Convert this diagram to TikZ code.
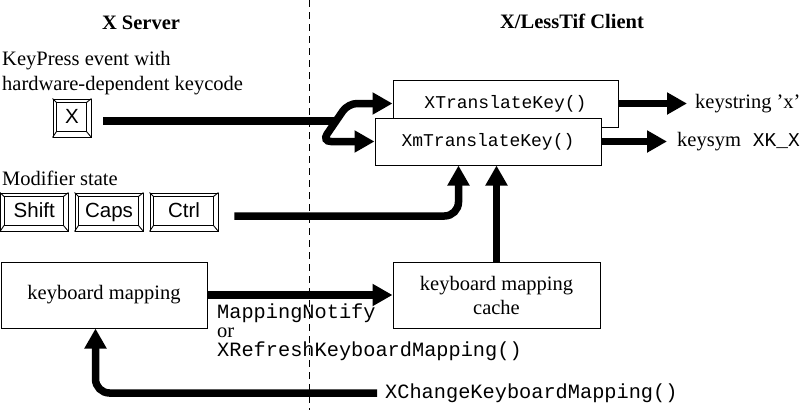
\documentclass[tikz,border=0pt]{standalone}
\usepackage{fontspec}
\setmainfont{Liberation Serif}
\setmonofont{Liberation Mono}
\setsansfont{Liberation Sans}
\usetikzlibrary{arrows.meta,calc}
\newcommand\drawkeycap[1]{%
  \draw[line width=0.9pt] ($(#1.north west)+(4,4)$) coordinate (#1-a)
        rectangle ($(#1.south east)+(-5,-6)$) coordinate (#1-b);
  \draw[line width=0.9pt] (#1.north west) -- (#1-a)
        (#1.north east) -- (#1-b |- #1-a)
        (#1.south west) -- (#1-a |- #1-b)
        (#1.south east) -- (#1-b);
}
\begin{document}
\begin{tikzpicture}[x=1pt,y=-1pt,
  txt/.style={inner sep=0pt, font=\fontsize{20.5}{24}\selectfont},
  hd/.style={inner sep=0pt, font=\fontsize{20.5}{24}\selectfont\bfseries},
  fn/.style={font=\fontsize{18}{22}\selectfont\ttfamily},
  mono/.style={inner sep=0pt, font=\fontsize{20.3}{24}\selectfont\ttfamily},
  keyout/.style={draw, line width=0.9pt, inner sep=0pt, text height=15pt, text depth=4pt, font=\fontsize{20.5}{24}\selectfont\sffamily},
  box/.style={draw, line width=1pt, fill=white, inner sep=0pt},
  bigline/.style={line width=7.5pt},
  bigarrow/.style={line width=7.5pt, -{Triangle[length=20pt,width=21pt]}},
]
\useasboundingbox (0,0) rectangle (800,410);
\fill[white] (0,0) rectangle (800,410);

% divider
\coordinate (dtop) at (309,0);
\coordinate (dbot) at (309,410);
\draw[line width=1pt, dash pattern=on 7pt off 5pt] (dtop) -- (dbot);

% headings
\node[hd, anchor=base] (hserver) at (141,29) {X Server};
\node[hd, anchor=base] (hclient) at (572,28) {X/LessTif Client};

% left texts
\node[txt, anchor=base west] (kp1) at (2,65) {KeyPress event with};
\node[txt, anchor=base west] (kp2) at (2,90) {hardware-dependent keycode};
\node[txt, anchor=base west] (mod) at (2,185) {Modifier state};

% keys
\node[keyout, minimum width=38pt, minimum height=38pt] (xkey) at (72,118) {X};
\drawkeycap{xkey}
\node[keyout, minimum width=67.5pt, minimum height=38pt] (shift) at (34.25,212) {Shift};
\drawkeycap{shift}
\node[keyout, minimum width=68pt, minimum height=38pt] (caps) at (109,212) {Caps};
\drawkeycap{caps}
\node[keyout, minimum width=68pt, minimum height=38pt] (ctrl) at (184,212) {Ctrl};
\drawkeycap{ctrl}

% boxes
\node[box, fn, minimum width=225pt, minimum height=47pt] (xtk) at (505.5,103.5) {XTranslateKey()};
\node[box, fn, minimum width=226pt, minimum height=47pt] (xmtk) at (488,141.5) {XmTranslateKey()};
\node[box, txt, minimum width=206pt, minimum height=66pt] (kbm) at (104,295) {keyboard mapping};
\node[box, txt, minimum width=207pt, minimum height=66pt, align=center] (cache) at (496.5,295) {keyboard mapping\\cache};

% right labels
\node[txt, anchor=west, inner xsep=8pt] (kstr) at (687,103.5) {keystring ’x’};
\node[txt, anchor=west, inner xsep=10pt] (ksym) at (667,141.5) {keysym\hspace{12pt}{\fontsize{19.5}{24}\selectfont\ttfamily XK\_X}};

% mapping labels
\node[mono, anchor=base west] (mn) at (217,318) {MappingNotify};
\node[txt, anchor=base west] (mor) at (217,337) {or};
\node[mono, anchor=base west] (mref) at (217,356) {XRefreshKeyboardMapping()};
\node[mono, anchor=west, inner xsep=8pt] (xchg) at (377,393) {XChangeKeyboardMapping()};

% connectors
\coordinate (junc) at (336,121);
\draw[bigline] ($(xkey.east)+(12,3)$) -- (junc);
\draw[line width=7.5pt, {Triangle[length=20pt,width=21pt]}-{Triangle[length=20pt,width=21pt]}, rounded corners=9pt]
  (xmtk.west) -- (322,141.5) -- (348,103.5) -- (xtk.west);
\draw[bigarrow] (xtk.east) -- (kstr.west);
\draw[bigarrow] (xmtk.east) -- (ksym.west);
\draw[bigarrow, rounded corners=14pt] ($(ctrl.east)+(16,4)$) -- ($(xmtk.south west)+(84,50.5)$) -- ($(xmtk.south west)+(84,0)$);
\draw[bigarrow] (cache.north) -- (cache.north |- xmtk.south);
\draw[bigarrow] (kbm.east) -- (cache.west);
\coordinate (kbmx) at ($(kbm.south west)+(95,0)$);
\draw[bigarrow, rounded corners=14pt] (xchg.west) -- (xchg.west -| kbmx) -- (kbmx);
\end{tikzpicture}
\end{document}
